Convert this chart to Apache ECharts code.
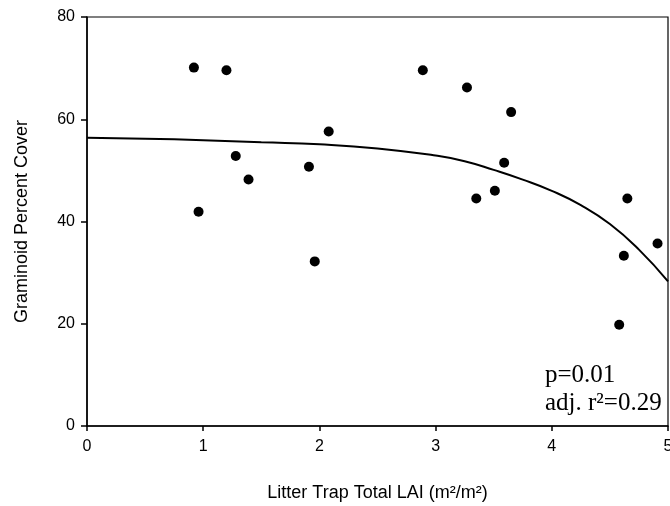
<!DOCTYPE html>
<html>
<head>
<meta charset="utf-8">
<script src="https://cdn.jsdelivr.net/npm/echarts@6/dist/echarts.min.js"></script>
<style>html,body{margin:0;padding:0;background:#fff}#c{width:670px;height:506px}</style>
</head>
<body>
<div id="c"></div>
<script>
// Observed data points: [Litter Trap Total LAI, Graminoid Percent Cover]
const lai = [0.92, 0.96, 1.20, 1.28, 1.39, 1.91, 1.96, 2.08, 2.89, 3.27, 3.35, 3.51, 3.59, 3.65, 4.58, 4.62, 4.65, 4.91];
const cover = [70.1, 41.9, 69.6, 52.8, 48.2, 50.7, 32.2, 57.6, 69.6, 66.2, 44.5, 46.0, 51.5, 61.4, 19.8, 33.3, 44.5, 35.7];
// Fitted curve
const curveX = [0, 0.5, 1, 1.5, 2, 2.5, 3, 3.25, 3.5, 3.75, 4, 4.25, 4.5, 4.75, 5];
const curveY = [56.4, 56.2, 55.9, 55.5, 55.1, 54.3, 52.9, 51.8, 50.1, 48.2, 46.0, 43.2, 39.5, 34.5, 28.3];
const xTicks = [0, 1, 2, 3, 4, 5];
const yTicks = [0, 20, 40, 60, 80];
const statLines = ['p=0.01', 'adj. r²=0.29'];

const chart = echarts.init(document.getElementById('c'));
const sans = 'Liberation Sans, Arial, sans-serif';
chart.setOption({
  animation: false,
  backgroundColor: '#fff',
  grid: { left: 87, right: 2, top: 17, bottom: 80, containLabel: false, outerBoundsMode: 'none',
          show: true, borderColor: '#000', borderWidth: 1.2, backgroundColor: 'transparent' },
  xAxis: {
    type: 'value', min: xTicks[0], max: xTicks[xTicks.length - 1], interval: 1,
    name: 'Litter Trap Total LAI (m²/m²)', nameLocation: 'middle', nameGap: 58,
    nameTextStyle: { fontFamily: sans, fontSize: 18, color: '#000' },
    axisLine: { lineStyle: { color: '#000', width: 1.5 } },
    axisTick: { show: true, length: 5, lineStyle: { color: '#000', width: 1.5 } },
    axisLabel: { fontFamily: sans, fontSize: 16, color: '#000', margin: 13 },
    splitLine: { show: false }
  },
  yAxis: {
    type: 'value', min: yTicks[0], max: yTicks[yTicks.length - 1], interval: 20,
    name: 'Graminoid Percent Cover', nameLocation: 'middle', nameGap: 56,
    nameTextStyle: { fontFamily: sans, fontSize: 18, color: '#000' },
    axisLine: { show: true, lineStyle: { color: '#000', width: 1.5 } },
    axisTick: { show: true, length: 6, lineStyle: { color: '#000', width: 1.5 } },
    axisLabel: { fontFamily: sans, fontSize: 16, color: '#000', margin: 12 },
    splitLine: { show: false }
  },
  series: [
    {
      type: 'scatter', symbol: 'circle', symbolSize: 10,
      itemStyle: { color: '#000', opacity: 1 },
      data: lai.map((x, i) => [x, cover[i]])
    },
    {
      type: 'line', smooth: true, symbol: 'none',
      lineStyle: { color: '#000', width: 2 },
      data: curveX.map((x, i) => [x, curveY[i]])
    }
  ],
  graphic: [
    { type: 'text', left: 545, top: 363, style: { text: statLines[0], font: '25px "Liberation Serif", "Times New Roman", serif', fill: '#000' } },
    { type: 'text', left: 545, top: 391, style: { text: statLines[1], font: '25px "Liberation Serif", "Times New Roman", serif', fill: '#000' } }
  ]
});
</script>
</body>
</html>
